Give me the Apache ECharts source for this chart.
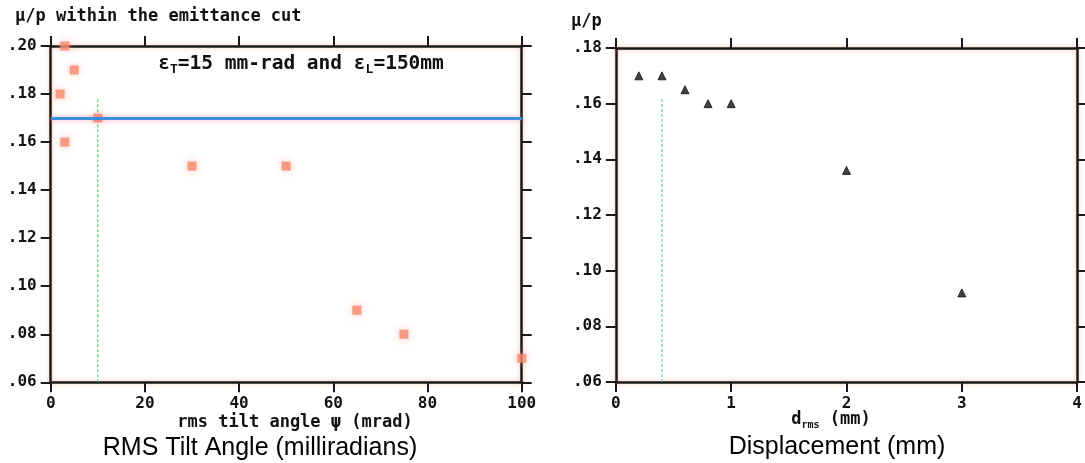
<!DOCTYPE html>
<html>
<head>
<meta charset="utf-8">
<script src="https://cdn.jsdelivr.net/npm/echarts@6/dist/echarts.min.js"></script>
<style>
    html, body { margin: 0; padding: 0; background: #fff; }
    #main { width: 1085px; height: 463px; }
</style>
</head>
<body>
<div id="main"></div>
<script>
    // left panel: mu/p vs rms tilt angle
    var tiltAngle = [2, 3, 3, 5, 10, 30, 50, 65, 75, 100];
    var tiltRatio = [0.18, 0.20, 0.16, 0.19, 0.17, 0.15, 0.15, 0.09, 0.08, 0.07];
    var tiltRange = [0, 100, 20];
    var tiltRatioRange = [0.06, 0.20, 0.02];
    var tiltCutLevel = 0.17;
    var tiltCutLine = [[10, 0.06], [10, 0.178]];

    // right panel: mu/p vs displacement
    var displacement = [0.2, 0.4, 0.6, 0.8, 1.0, 2.0, 3.0];
    var dispRatio = [0.17, 0.17, 0.165, 0.16, 0.16, 0.136, 0.092];
    var dispRange = [0, 4, 1];
    var dispRatioRange = [0.06, 0.18, 0.02];
    var dispCutLine = [[0.4, 0.06], [0.4, 0.162]];

    var plotFont = 'DejaVu Sans Mono';
    var ink = '#1a1a1a';
    var glow = 'rgba(240,120,90,0.45)';

    function pairs(xs, ys) {
        return xs.map(function (x, i) { return [x, ys[i]]; });
    }

    function ratioLabel(v) {
        return v.toFixed(2).replace(/^0/, '');
    }

    // one side of the box frame; only bottom/left carry labels
    function frameAxis(grid, pos, range, withLabel, fmt) {
        return {
            type: 'value',
            gridIndex: grid,
            position: pos,
            min: range[0],
            max: range[1],
            interval: range[2],
            splitLine: { show: false },
            axisLine: {
                show: true, onZero: false,
                lineStyle: { color: ink, width: 2.5, shadowColor: glow, shadowBlur: 4 }
            },
            axisTick: {
                show: true, inside: false, length: 10,
                lineStyle: { color: ink, width: 2 }
            },
            axisLabel: {
                show: withLabel,
                margin: 14,
                color: '#111',
                fontFamily: plotFont,
                fontWeight: 'bold',
                fontSize: 16,
                formatter: fmt
            }
        };
    }

    var chart = echarts.init(document.getElementById('main'));

    var option = {
        backgroundColor: '#fff',
        animation: false,
        grid: [
            { left: 50.7, top: 46, width: 471, height: 336.3 },
            { left: 615.8, top: 48, width: 467.5, height: 334 }
        ],
        xAxis: [
            frameAxis(0, 'bottom', tiltRange, true),
            frameAxis(0, 'top', tiltRange, false),
            frameAxis(1, 'bottom', dispRange, true),
            frameAxis(1, 'top', dispRange, false)
        ],
        yAxis: [
            frameAxis(0, 'left', tiltRatioRange, true, ratioLabel),
            frameAxis(0, 'right', tiltRatioRange, false),
            frameAxis(1, 'left', dispRatioRange, true, ratioLabel),
            frameAxis(1, 'right', dispRatioRange, false)
        ],
        series: [
            {
                type: 'line',
                xAxisIndex: 0, yAxisIndex: 0,
                data: tiltCutLine,
                symbol: 'none',
                lineStyle: { color: '#2ecc55', width: 1, type: [3, 2] },
                z: 2
            },
            {
                type: 'scatter',
                xAxisIndex: 0, yAxisIndex: 0,
                data: pairs(tiltAngle, tiltRatio),
                symbol: 'rect',
                symbolSize: 9,
                itemStyle: { color: '#f58a6e', shadowColor: 'rgba(246,140,110,0.7)', shadowBlur: 7 },
                markLine: {
                    silent: true,
                    symbol: 'none',
                    label: { show: false },
                    lineStyle: {
                        color: '#3a8fdc', width: 3, type: 'solid',
                        shadowColor: 'rgba(240,110,140,0.6)', shadowBlur: 5
                    },
                    data: [{ yAxis: tiltCutLevel }]
                },
                z: 3
            },
            {
                type: 'line',
                xAxisIndex: 2, yAxisIndex: 2,
                data: dispCutLine,
                symbol: 'none',
                lineStyle: { color: '#3fd36a', width: 1, type: [3, 2] },
                z: 2
            },
            {
                type: 'scatter',
                xAxisIndex: 2, yAxisIndex: 2,
                data: pairs(displacement, dispRatio),
                symbol: 'triangle',
                symbolSize: 8,
                itemStyle: { color: '#111', borderColor: '#111', borderWidth: 1 },
                z: 3
            }
        ],
        graphic: [
            {
                type: 'text', x: 15, y: 17,
                style: {
                    text: 'μ/p within the emittance cut',
                    font: 'bold 17px ' + plotFont, fill: '#111',
                    verticalAlign: 'middle'
                }
            },
            {
                type: 'text', x: 301, y: 64,
                style: {
                    text: '{m|ε}{s|T}{m|=15 mm-rad and ε}{s|L}{m|=150mm}',
                    align: 'center', verticalAlign: 'middle',
                    rich: {
                        m: { font: 'bold 19.5px ' + plotFont, fill: '#111' },
                        s: { font: 'bold 13px ' + plotFont, fill: '#111', padding: [11, 0, 0, 0] }
                    }
                }
            },
            {
                type: 'text', x: 295, y: 423,
                style: {
                    text: 'rms tilt angle ψ (mrad)',
                    font: 'bold 17px ' + plotFont, fill: '#111',
                    align: 'center', verticalAlign: 'middle'
                }
            },
            {
                type: 'text', x: 260, y: 448,
                style: {
                    text: 'RMS Tilt Angle (milliradians)',
                    font: '25px "Liberation Sans", Arial, sans-serif', fill: '#000',
                    align: 'center', verticalAlign: 'middle'
                }
            },
            {
                type: 'text', x: 571, y: 22,
                style: {
                    text: 'μ/p',
                    font: 'bold 17px ' + plotFont, fill: '#111',
                    verticalAlign: 'middle'
                }
            },
            {
                type: 'text', x: 831, y: 420,
                style: {
                    text: '{m|d}{s|rms}{m| (mm)}',
                    align: 'center', verticalAlign: 'middle',
                    rich: {
                        m: { font: 'bold 17px ' + plotFont, fill: '#111' },
                        s: { font: 'bold 10px ' + plotFont, fill: '#111', padding: [10, 0, 0, 0] }
                    }
                }
            },
            {
                type: 'text', x: 837, y: 447,
                style: {
                    text: 'Displacement (mm)',
                    font: '25px "Liberation Sans", Arial, sans-serif', fill: '#000',
                    align: 'center', verticalAlign: 'middle'
                }
            }
        ]
    };

    chart.setOption(option);
</script>
</body>
</html>
